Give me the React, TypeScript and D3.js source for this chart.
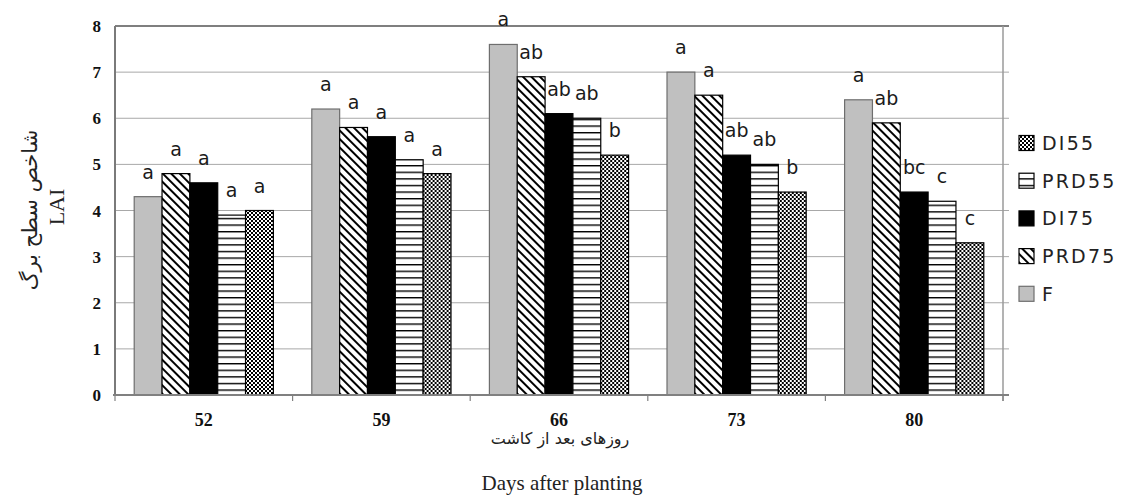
import React from 'react';
import * as d3 from 'd3';

const days = ['52', '59', '66', '73', '80'];
const seriesNames = ['F', 'PRD75', 'DI75', 'PRD55', 'DI55'];
const valF = [4.3, 6.2, 7.6, 7.0, 6.4];
const valPRD75 = [4.8, 5.8, 6.9, 6.5, 5.9];
const valDI75 = [4.6, 5.6, 6.1, 5.2, 4.4];
const valPRD55 = [3.9, 5.1, 6.0, 5.0, 4.2];
const valDI55 = [4.0, 4.8, 5.2, 4.4, 3.3];
const letF = ['a', 'a', 'a', 'a', 'a'];
const letPRD75 = ['a', 'a', 'ab', 'a', 'ab'];
const letDI75 = ['a', 'a', 'ab', 'ab', 'bc'];
const letPRD55 = ['a', 'a', 'ab', 'ab', 'c'];
const letDI55 = ['a', 'a', 'b', 'b', 'c'];
const yTicks = [0, 1, 2, 3, 4, 5, 6, 7, 8];
const legendOrder = ['DI55', 'PRD55', 'DI75', 'PRD75', 'F'];

const values: Record<string, number[]> = {
  F: valF, PRD75: valPRD75, DI75: valDI75, PRD55: valPRD55, DI55: valDI55,
};
const letters: Record<string, string[]> = {
  F: letF, PRD75: letPRD75, DI75: letDI75, PRD55: letPRD55, DI55: letDI55,
};

const W = 1121, H = 497;
const left = 115, right = 1003, top = 26, bottom = 395;

const fills: Record<string, string> = {
  F: '#c0c0c0',
  PRD75: 'url(#pDiag)',
  DI75: '#000',
  PRD55: 'url(#pHoriz)',
  DI55: 'url(#pCheck)',
};
const strokes: Record<string, string> = {
  F: '#6e6e6e', PRD75: '#000', DI75: '#000', PRD55: '#000', DI55: '#000',
};

export default function App() {
  const x0 = d3.scaleBand<string>().domain(days).range([left, right]).paddingInner(0).paddingOuter(0);
  const x1 = d3.scaleBand<string>().domain(seriesNames).range([0, x0.bandwidth()]).paddingInner(0).paddingOuter(0.69);
  const y = d3.scaleLinear().domain([0, 8]).range([bottom, top]);
  const boundaries = days.map((d) => x0(d) as number).concat([right]);

  return (
    <svg width={W} height={H} style={{ position: 'absolute', left: 0, top: 0, background: '#fff' }}>
      <defs>
        <pattern id="pDiag" width="6" height="6" patternUnits="userSpaceOnUse" patternTransform="rotate(-45)">
          <rect width="6" height="6" fill="#fff" />
          <rect x="0" y="0" width="2" height="6" fill="#000" />
        </pattern>
        <pattern id="pHoriz" width="6" height="6.6" patternUnits="userSpaceOnUse">
          <rect width="6" height="6.6" fill="#fff" />
          <rect x="0" y="0" width="6" height="1.4" fill="#000" />
        </pattern>
        <pattern id="pCheck" width="4" height="4" patternUnits="userSpaceOnUse">
          <rect width="4" height="4" fill="#fff" />
          <rect x="0" y="0" width="2" height="2" fill="#000" />
          <rect x="2" y="2" width="2" height="2" fill="#000" />
        </pattern>
      </defs>

      {/* gridlines */}
      {yTicks.map((t) => (
        <line key={'g' + t} x1={left} x2={right + 6} y1={y(t)} y2={y(t)}
          stroke={t === 8 ? '#555' : '#a8a8a8'} strokeWidth={t === 8 ? 1.5 : 1} />
      ))}
      {/* plot borders */}
      <line x1={left} x2={left} y1={top} y2={bottom} stroke="#7a7a7a" strokeWidth={2} />
      <line x1={right} x2={right} y1={top} y2={bottom + 6} stroke="#9a9a9a" strokeWidth={1.5} />

      {/* bars */}
      {days.map((d, i) => (
        <g key={d} transform={`translate(${x0(d)},0)`}>
          {seriesNames.map((s) => {
            const v = values[s][i];
            const bx = x1(s) as number;
            const bw = x1.bandwidth();
            return (
              <rect key={s} x={bx} y={y(v)} width={bw} height={bottom - y(v)}
                fill={fills[s]} stroke={strokes[s]} strokeWidth={1.2} />
            );
          })}
          {seriesNames.map((s) => {
            const v = values[s][i];
            const bx = (x1(s) as number) + x1.bandwidth() / 2;
            return (
              <text key={'l' + s} x={bx} y={y(v) - 18} textAnchor="middle"
                fontFamily="DejaVu Sans, sans-serif" fontSize={19} fill="#1a1a1a">
                {letters[s][i]}
              </text>
            );
          })}
        </g>
      ))}

      {/* x axis */}
      <line x1={left - 2} x2={right + 6} y1={bottom} y2={bottom} stroke="#808080" strokeWidth={2} />
      {boundaries.map((bx, i) => (
        <line key={'t' + i} x1={bx} x2={bx} y1={bottom} y2={bottom + 6} stroke="#808080" strokeWidth={1.2} />
      ))}
      {days.map((d) => (
        <text key={'xl' + d} x={(x0(d) as number) + x0.bandwidth() / 2} y={426} textAnchor="middle"
          fontFamily="Liberation Serif, Times New Roman, serif" fontWeight="bold" fontSize={18} fill="#111">
          {d}
        </text>
      ))}

      {/* y tick labels */}
      {yTicks.map((t) => (
        <text key={'yl' + t} x={101} y={y(t) + 6} textAnchor="end"
          fontFamily="Liberation Serif, Times New Roman, serif" fontWeight="bold" fontSize={17} fill="#111">
          {t}
        </text>
      ))}

      {/* axis titles */}
      <text x={560} y={444} textAnchor="middle" fontFamily="DejaVu Sans, Noto Sans, serif" fontSize={16} fill="#222">
        روزهای بعد از کاشت
      </text>
      <text x={562} y={490} textAnchor="middle" fontFamily="Liberation Serif, Times New Roman, serif" fontSize={21} fill="#222">
        Days after planting
      </text>
      <text transform="translate(37,210) rotate(-90)" textAnchor="middle" fontFamily="DejaVu Sans, Noto Sans, serif" fontSize={21} fill="#222">
        شاخص سطح برگ
      </text>
      <text transform="translate(64,207) rotate(-90)" textAnchor="middle" fontFamily="Liberation Serif, Times New Roman, serif" fontSize={22} fill="#222">
        LAI
      </text>

      {/* legend */}
      {legendOrder.map((s, i) => {
        const cy = 143 + i * 37.7;
        return (
          <g key={'lg' + s}>
            <rect x={1019} y={cy - 7.5} width={15} height={15} fill={fills[s]} stroke={strokes[s]} strokeWidth={1.2} />
            <text x={1042} y={cy + 7} fontFamily="DejaVu Sans, sans-serif" fontSize={19} letterSpacing={2.2} fill="#222">
              {s}
            </text>
          </g>
        );
      })}
    </svg>
  );
}
